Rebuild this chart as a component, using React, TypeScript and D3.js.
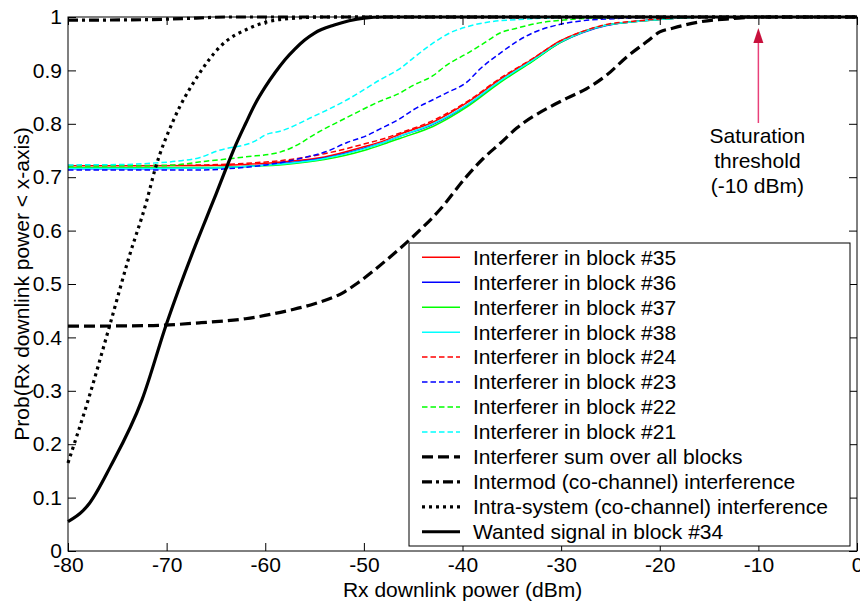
import React, { useRef, useEffect } from "react";
import * as d3 from "d3";

type Pt = [number, number];

const xTicks = [-80, -70, -60, -50, -40, -30, -20, -10, 0];
const yTicks = [0, 0.1, 0.2, 0.3, 0.4, 0.5, 0.6, 0.7, 0.8, 0.9, 1];

// CDF curves: [Rx power dBm, probability]
const block35: Pt[] = [[-80, 0.7215], [-72, 0.7215], [-66, 0.722], [-62, 0.724], [-58, 0.729], [-54, 0.738], [-50, 0.757], [-48, 0.768], [-46.3, 0.781], [-43, 0.803], [-39.5, 0.84], [-36.2, 0.883], [-32.9, 0.921], [-30.1, 0.955], [-27.8, 0.973], [-25.4, 0.985], [-22.7, 0.991], [-20.3, 0.995], [-18, 0.998], [-15, 1], [0, 1]];
const block36: Pt[] = [[-80, 0.716], [-72, 0.716], [-66, 0.717], [-62, 0.72], [-58, 0.726], [-54, 0.736], [-50, 0.754], [-48, 0.765], [-46.3, 0.777], [-43, 0.799], [-39.5, 0.835], [-36.2, 0.879], [-32.9, 0.918], [-30.1, 0.952], [-27.8, 0.971], [-25.4, 0.984], [-22.7, 0.991], [-20.3, 0.995], [-18, 0.998], [-15, 1], [0, 1]];
const block37: Pt[] = [[-80, 0.7175], [-72, 0.7175], [-66, 0.718], [-62, 0.72], [-58, 0.724], [-54, 0.733], [-50, 0.75], [-48, 0.762], [-46.3, 0.773], [-43, 0.795], [-39.5, 0.832], [-36.2, 0.877], [-32.9, 0.917], [-30.1, 0.952], [-27.8, 0.972], [-25.4, 0.985], [-22.7, 0.991], [-20.3, 0.995], [-18, 0.998], [-15, 1], [0, 1]];
const block38: Pt[] = [[-80, 0.7165], [-72, 0.7165], [-66, 0.717], [-62, 0.72], [-58, 0.725], [-54, 0.735], [-50, 0.753], [-48, 0.765], [-46.3, 0.777], [-43, 0.8], [-39.5, 0.836], [-36.2, 0.88], [-32.9, 0.919], [-30.1, 0.953], [-27.8, 0.972], [-25.4, 0.985], [-22.7, 0.991], [-20.3, 0.995], [-18, 0.998], [-15, 1], [0, 1]];
const block24: Pt[] = [[-80, 0.722], [-72, 0.722], [-66, 0.723], [-62, 0.726], [-58, 0.732], [-54, 0.744], [-50, 0.762], [-48, 0.772], [-46.3, 0.783], [-43, 0.806], [-39.5, 0.842], [-36.2, 0.885], [-32.9, 0.922], [-30.1, 0.955], [-27.8, 0.973], [-25.4, 0.986], [-22.7, 0.992], [-20.3, 0.996], [-18, 0.999], [-15, 1], [0, 1]];
const block23: Pt[] = [[-80, 0.7135], [-72, 0.7135], [-66.6, 0.7135], [-63, 0.717], [-59.9, 0.723], [-56, 0.737], [-53.8, 0.748], [-51.7, 0.765], [-49.7, 0.778], [-48.4, 0.79], [-46.3, 0.81], [-45, 0.826], [-43, 0.845], [-41.6, 0.858], [-39.5, 0.879], [-38.2, 0.903], [-36.2, 0.932], [-34.5, 0.954], [-32.9, 0.97], [-30.4, 0.985], [-27.8, 0.993], [-24.4, 0.997], [-20, 1], [0, 1]];
const block22: Pt[] = [[-80, 0.721], [-70, 0.722], [-66, 0.73], [-62, 0.738], [-58.5, 0.747], [-56.5, 0.763], [-55.2, 0.778], [-51.7, 0.812], [-48.4, 0.842], [-46.3, 0.858], [-45, 0.872], [-43, 0.89], [-41.6, 0.91], [-39.5, 0.932], [-37.9, 0.95], [-36.2, 0.97], [-34.5, 0.979], [-32.2, 0.989], [-29.4, 0.995], [-25, 0.999], [-22, 1], [0, 1]];
const block21: Pt[] = [[-80, 0.723], [-74, 0.724], [-71.7, 0.726], [-69, 0.73], [-66.6, 0.737], [-64.9, 0.749], [-61, 0.768], [-59.9, 0.78], [-58.5, 0.786], [-55.2, 0.813], [-51.7, 0.845], [-48.4, 0.882], [-46.3, 0.904], [-45, 0.923], [-43, 0.951], [-41.3, 0.97], [-39.5, 0.982], [-37.2, 0.991], [-34.5, 0.995], [-31.5, 0.998], [-28, 1], [0, 1]];
const sumAllBlocks: Pt[] = [[-80, 0.421], [-72, 0.422], [-66.5, 0.4275], [-62, 0.435], [-57.5, 0.451], [-55, 0.463], [-52, 0.485], [-50.7, 0.501], [-47.7, 0.545], [-45, 0.589], [-42.3, 0.639], [-39.6, 0.701], [-37.9, 0.735], [-36.2, 0.763], [-34.5, 0.792], [-31.1, 0.832], [-29.4, 0.848], [-27.4, 0.866], [-25.4, 0.891], [-23.3, 0.926], [-21.3, 0.954], [-20, 0.972], [-18.7, 0.979], [-15.9, 0.991], [-12.6, 0.997], [-10, 1], [0, 1]];
const intermod: Pt[] = [[-80, 0.994], [-72, 0.995], [-67, 0.998], [-64, 1], [0, 1]];
const intraSystem: Pt[] = [[-80, 0.165], [-78, 0.28], [-75.7, 0.427], [-73.9, 0.545], [-72, 0.657], [-71.2, 0.713], [-69.3, 0.807], [-66.9, 0.888], [-64.6, 0.944], [-61.5, 0.98], [-58.2, 0.996], [-54, 1], [0, 1]];
const wanted: Pt[] = [[-80, 0.055], [-78.5, 0.075], [-77.8, 0.09], [-75.7, 0.158], [-72.5, 0.283], [-70, 0.426], [-67, 0.576], [-66, 0.622], [-65, 0.668], [-64, 0.715], [-63, 0.76], [-62, 0.8], [-61, 0.838], [-60, 0.869], [-59, 0.896], [-58, 0.92], [-57, 0.94], [-56, 0.957], [-55, 0.97], [-53, 0.985], [-51.5, 0.993], [-50, 0.998], [-48, 1], [0, 1]];

const series = [
	{ name: "Interferer in block #35", data: block35, color: "#ff0000", width: 1.5, dash: null },
	{ name: "Interferer in block #36", data: block36, color: "#0000ff", width: 1.5, dash: null },
	{ name: "Interferer in block #37", data: block37, color: "#00ff00", width: 1.5, dash: null },
	{ name: "Interferer in block #38", data: block38, color: "#00ffff", width: 1.5, dash: null },
	{ name: "Interferer in block #24", data: block24, color: "#ff0000", width: 1.5, dash: "5.5,3" },
	{ name: "Interferer in block #23", data: block23, color: "#0000ff", width: 1.5, dash: "5.5,3" },
	{ name: "Interferer in block #22", data: block22, color: "#00ff00", width: 1.5, dash: "5.5,3" },
	{ name: "Interferer in block #21", data: block21, color: "#00ffff", width: 1.5, dash: "5.5,3" },
	{ name: "Interferer sum over all blocks", data: sumAllBlocks, color: "#000000", width: 3.2, dash: "11,5" },
	{ name: "Intermod (co-channel) interference", data: intermod, color: "#000000", width: 3.2, dash: "10,4,3,4" },
	{ name: "Intra-system (co-channel) interference", data: intraSystem, color: "#000000", width: 3.2, dash: "3,4" },
	{ name: "Wanted signal in block #34", data: wanted, color: "#000000", width: 3.2, dash: null },
];

const FONT = "'Liberation Sans', Arial, sans-serif";

const App = () => {

	const chartRef = useRef<SVGSVGElement>(null);

	useEffect(() => {

		const width = 860;
		const height = 604;
		const margin = { top: 17, right: 3, bottom: 53, left: 68 };

		const svg = d3.select(chartRef.current);
		svg.selectAll("*").remove();
		svg.attr("width", width).attr("height", height);

		const x = d3.scaleLinear().domain([-80, 0]).range([margin.left, width - margin.right]);
		const y = d3.scaleLinear().domain([0, 1]).range([height - margin.bottom, margin.top]);

		svg.append("rect").attr("width", width).attr("height", height).attr("fill", "#fff");

		// curves
		const line = d3.line<Pt>()
			.x(d => x(d[0]))
			.y(d => y(d[1]))
			.curve(d3.curveMonotoneX);

		series.forEach(s => {
			svg.append("path")
				.attr("d", line(s.data))
				.attr("fill", "none")
				.attr("stroke", s.color)
				.attr("stroke-width", s.width)
				.attr("stroke-dasharray", s.dash)
				.attr("stroke-linejoin", "round");
		});

		// axes, ticks pointing inward like MATLAB
		const styleAxis = (g) => {
			g.select(".domain").remove();
			g.selectAll(".tick line").attr("stroke", "#000").attr("stroke-width", 1);
			g.selectAll(".tick text")
				.attr("fill", "#000")
				.style("font-family", FONT)
				.style("font-size", "21px");
		};

		svg.append("g")
			.attr("transform", `translate(0,${y(0)})`)
			.call(d3.axisBottom(x).tickValues(xTicks).tickSize(-8).tickPadding(6).tickFormat(d => String(d)))
			.call(styleAxis);

		svg.append("g")
			.attr("transform", `translate(0,${y(1)})`)
			.call(d3.axisTop(x).tickValues(xTicks).tickSize(-8).tickFormat(() => ""))
			.call(styleAxis);

		svg.append("g")
			.attr("transform", `translate(${x(-80)},0)`)
			.call(d3.axisLeft(y).tickValues(yTicks).tickSize(-8).tickPadding(6).tickFormat(d => String(d)))
			.call(styleAxis);

		svg.append("g")
			.attr("transform", `translate(${x(0)},0)`)
			.call(d3.axisRight(y).tickValues(yTicks).tickSize(-8).tickFormat(() => ""))
			.call(styleAxis);

		svg.append("rect")
			.attr("x", x(-80))
			.attr("y", y(1))
			.attr("width", x(0) - x(-80))
			.attr("height", y(0) - y(1))
			.attr("fill", "none")
			.attr("stroke", "#000")
			.attr("stroke-width", 1);

		// axis titles
		svg.append("text")
			.attr("x", (x(-80) + x(0)) / 2)
			.attr("y", 597)
			.attr("text-anchor", "middle")
			.style("font-family", FONT)
			.style("font-size", "21px")
			.text("Rx downlink power (dBm)");

		svg.append("text")
			.attr("transform", `translate(29,${(y(0) + y(1)) / 2}) rotate(-90)`)
			.attr("text-anchor", "middle")
			.style("font-family", FONT)
			.style("font-size", "21px")
			.text("Prob(Rx downlink power < x-axis)");

		// saturation annotation
		const ax = x(-10);
		svg.append("line")
			.attr("x1", ax).attr("x2", ax)
			.attr("y1", 123).attr("y2", 40)
			.attr("stroke", "#e8407a")
			.attr("stroke-width", 1.5);
		svg.append("path")
			.attr("d", `M ${ax},28 L ${ax - 5},43 L ${ax + 5},43 Z`)
			.attr("fill", "#c8103c");
		["Saturation", "threshold", "(-10 dBm)"].forEach((t, i) => {
			svg.append("text")
				.attr("x", ax - 1)
				.attr("y", 143 + i * 25)
				.attr("text-anchor", "middle")
				.style("font-family", FONT)
				.style("font-size", "21px")
				.text(t);
		});

		// legend
		const legend = svg.append("g");
		legend.append("rect")
			.attr("x", 409).attr("y", 243)
			.attr("width", 441).attr("height", 303)
			.attr("fill", "#fff")
			.attr("stroke", "#000")
			.attr("stroke-width", 1);

		series.forEach((s, i) => {
			const ly = 257.3 + i * 24.95;
			legend.append("line")
				.attr("x1", 422).attr("x2", 460)
				.attr("y1", ly).attr("y2", ly)
				.attr("stroke", s.color)
				.attr("stroke-width", s.width)
				.attr("stroke-dasharray", s.dash);
			legend.append("text")
				.attr("x", 473)
				.attr("y", ly)
				.attr("dy", "0.35em")
				.style("font-family", FONT)
				.style("font-size", "21px")
				.text(s.name);
		});

	}, []);

	return (
		<div style={{ position: "absolute", left: 0, top: 0, width: 860, height: 604 }}>
			<svg ref={chartRef} style={{ display: "block" }}></svg>
		</div>
	);
};

export default App;
